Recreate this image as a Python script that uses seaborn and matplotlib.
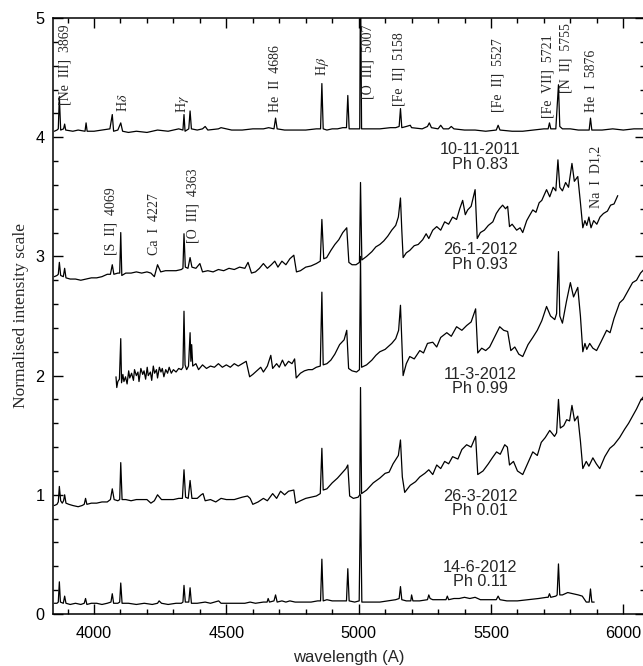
import matplotlib
matplotlib.use("Agg")
import matplotlib.pyplot as plt
import seaborn as sns
import pandas as pd
from matplotlib.ticker import MultipleLocator

# ---------------- data (wavelength [A], normalised flux) ----------------
spec_1011_2011 = [
    (3850, 4.05), (3860, 4.06), (3865, 4.07), (3869, 4.34), (3874, 4.06), (3885, 4.07), (3889, 4.11),
    (3893, 4.06), (3920, 4.05), (3940, 4.06), (3966, 4.05), (3970, 4.12), (3974, 4.05), (4000, 4.05),
    (4030, 4.06), (4060, 4.07), (4069, 4.19), (4074, 4.05), (4090, 4.06), (4101, 4.12), (4108, 4.05),
    (4130, 4.04), (4160, 4.05), (4200, 4.04), (4240, 4.06), (4280, 4.05), (4300, 4.06), (4320, 4.07),
    (4336, 4.06), (4340, 4.19), (4344, 4.05), (4358, 4.07), (4363, 4.22), (4368, 4.07), (4390, 4.06),
    (4410, 4.07), (4420, 4.09), (4430, 4.06), (4470, 4.07), (4480, 4.08), (4520, 4.06), (4560, 4.06),
    (4600, 4.07), (4640, 4.07), (4660, 4.08), (4680, 4.07), (4686, 4.16), (4692, 4.07), (4720, 4.06),
    (4760, 4.06), (4800, 4.06), (4840, 4.07), (4856, 4.07), (4861, 4.45), (4866, 4.07), (4880, 4.06),
    (4900, 4.07), (4920, 4.07), (4940, 4.08), (4954, 4.08), (4959, 4.35), (4964, 4.07), (5000, 4.07),
    (5004, 4.07), (5007, 5.40), (5011, 4.07), (5040, 4.07), (5080, 4.07), (5120, 4.08), (5140, 4.08),
    (5153, 4.09), (5158, 4.24), (5163, 4.08), (5180, 4.09), (5195, 4.10), (5200, 4.08), (5240, 4.07),
    (5260, 4.09), (5267, 4.12), (5275, 4.08), (5300, 4.07), (5310, 4.10), (5320, 4.07), (5340, 4.07),
    (5350, 4.09), (5360, 4.07), (5400, 4.06), (5440, 4.06), (5480, 4.05), (5520, 4.06), (5527, 4.10),
    (5534, 4.06), (5580, 4.05), (5620, 4.05), (5660, 4.06), (5700, 4.07), (5716, 4.07), (5721, 4.12),
    (5726, 4.07), (5745, 4.07), (5755, 4.44), (5760, 4.09), (5770, 4.07), (5800, 4.07), (5830, 4.06),
    (5860, 4.06), (5871, 4.06), (5876, 4.16), (5881, 4.06), (5920, 4.06), (5960, 4.07), (6000, 4.06),
    (6040, 4.07), (6082, 4.07),
]

spec_261_2012 = [
    (3850, 2.83), (3860, 2.84), (3865, 2.85), (3869, 2.95), (3874, 2.84), (3884, 2.83), (3889, 2.90),
    (3894, 2.82), (3910, 2.81), (3930, 2.81), (3950, 2.80), (3970, 2.81), (3990, 2.82), (4010, 2.82),
    (4030, 2.83), (4050, 2.85), (4062, 2.85), (4069, 2.93), (4075, 2.85), (4090, 2.86), (4097, 2.86),
    (4101, 3.20), (4105, 2.84), (4120, 2.86), (4140, 2.86), (4160, 2.87), (4180, 2.86), (4200, 2.87),
    (4215, 2.86), (4228, 2.83), (4240, 2.93), (4252, 2.87), (4270, 2.88), (4290, 2.88), (4310, 2.88),
    (4330, 2.89), (4336, 2.90), (4340, 3.19), (4345, 2.91), (4355, 2.90), (4363, 2.99), (4370, 2.91),
    (4385, 2.90), (4400, 2.94), (4410, 2.87), (4430, 2.88), (4450, 2.87), (4470, 2.89), (4490, 2.88),
    (4510, 2.90), (4530, 2.89), (4550, 2.91), (4570, 2.90), (4582, 2.95), (4595, 2.86), (4610, 2.87),
    (4625, 2.90), (4640, 2.94), (4655, 2.90), (4670, 2.93), (4683, 2.96), (4695, 2.91), (4710, 2.96),
    (4725, 2.93), (4740, 2.98), (4755, 3.01), (4765, 2.87), (4780, 2.88), (4800, 2.91), (4820, 2.92),
    (4840, 2.94), (4855, 2.96), (4861, 3.31), (4868, 2.98), (4879, 2.99), (4895, 3.05), (4910, 3.10),
    (4925, 3.14), (4940, 3.20), (4955, 3.24), (4963, 2.95), (4975, 2.93), (4990, 2.93), (5003, 2.95),
    (5007, 3.62), (5012, 2.97), (5030, 3.00), (5050, 3.04), (5065, 3.08), (5080, 3.10), (5095, 3.13),
    (5110, 3.17), (5125, 3.22), (5140, 3.26), (5150, 3.33), (5158, 3.49), (5163, 3.22), (5168, 2.99),
    (5180, 3.03), (5193, 3.05), (5210, 3.09), (5225, 3.10), (5242, 3.14), (5255, 3.19), (5265, 3.15),
    (5280, 3.22), (5295, 3.25), (5310, 3.22), (5325, 3.29), (5340, 3.27), (5355, 3.33), (5370, 3.31),
    (5382, 3.40), (5393, 3.47), (5403, 3.35), (5412, 3.39), (5425, 3.42), (5440, 3.56), (5448, 3.15),
    (5460, 3.20), (5475, 3.22), (5490, 3.26), (5507, 3.29), (5520, 3.36), (5532, 3.40), (5544, 3.43),
    (5555, 3.40), (5563, 3.42), (5570, 3.25), (5580, 3.27), (5590, 3.24), (5597, 3.22), (5610, 3.24),
    (5620, 3.20), (5635, 3.30), (5645, 3.34), (5658, 3.39), (5670, 3.37), (5682, 3.45), (5692, 3.47),
    (5702, 3.52), (5710, 3.56), (5722, 3.50), (5735, 3.58), (5745, 3.55), (5753, 3.81), (5760, 3.58),
    (5770, 3.55), (5782, 3.62), (5793, 3.58), (5806, 3.78), (5815, 3.63), (5828, 3.67), (5838, 3.45),
    (5847, 3.24), (5855, 3.30), (5862, 3.26), (5870, 3.33), (5878, 3.24), (5888, 3.30), (5900, 3.27),
    (5912, 3.33), (5925, 3.36), (5940, 3.38), (5952, 3.43), (5965, 3.44), (5979, 3.51),
]

spec_113_2012 = [
    (4083, 1.99), (4086, 1.90), (4090, 1.95), (4096, 1.97), (4101, 2.31), (4104, 1.94), (4109, 2.01),
    (4113, 1.95), (4119, 1.99), (4125, 1.93), (4131, 2.04), (4135, 1.98), (4142, 2.02), (4149, 1.96),
    (4153, 2.05), (4160, 2.00), (4166, 2.03), (4170, 1.95), (4177, 2.06), (4184, 2.01), (4189, 2.04),
    (4195, 1.97), (4201, 2.07), (4205, 2.00), (4213, 2.03), (4218, 1.96), (4224, 2.08), (4229, 2.02),
    (4236, 2.05), (4240, 1.98), (4247, 2.07), (4253, 2.03), (4258, 2.06), (4264, 1.99), (4271, 2.05),
    (4278, 2.02), (4284, 2.07), (4292, 2.02), (4300, 2.05), (4310, 2.03), (4320, 2.06), (4330, 2.05),
    (4336, 2.07), (4340, 2.54), (4344, 2.09), (4350, 2.05), (4357, 2.08), (4363, 2.36), (4366, 2.12),
    (4369, 2.26), (4373, 2.08), (4385, 2.10), (4395, 2.05), (4410, 2.09), (4425, 2.06), (4440, 2.08),
    (4455, 2.07), (4470, 2.10), (4485, 2.07), (4500, 2.09), (4515, 2.07), (4530, 2.10), (4545, 2.08),
    (4560, 2.10), (4575, 2.12), (4588, 1.99), (4600, 2.01), (4615, 2.04), (4630, 2.07), (4640, 2.03),
    (4655, 2.08), (4668, 2.17), (4675, 2.06), (4690, 2.10), (4700, 2.07), (4712, 2.13), (4722, 2.08),
    (4735, 2.12), (4748, 2.10), (4758, 2.14), (4764, 1.98), (4780, 2.02), (4795, 2.04), (4810, 2.05),
    (4825, 2.05), (4840, 2.07), (4855, 2.08), (4861, 2.70), (4866, 2.09), (4880, 2.10), (4895, 2.13),
    (4910, 2.18), (4928, 2.26), (4945, 2.30), (4955, 2.38), (4962, 2.06), (4975, 2.04), (4992, 2.03),
    (5003, 2.05), (5007, 3.00), (5011, 2.07), (5030, 2.09), (5050, 2.13), (5065, 2.17), (5080, 2.20),
    (5100, 2.22), (5125, 2.27), (5140, 2.31), (5151, 2.38), (5158, 2.59), (5163, 2.30), (5168, 2.00),
    (5180, 2.10), (5193, 2.16), (5210, 2.14), (5231, 2.21), (5245, 2.19), (5260, 2.27), (5280, 2.28),
    (5295, 2.24), (5310, 2.32), (5333, 2.36), (5350, 2.33), (5370, 2.41), (5390, 2.38), (5408, 2.42),
    (5425, 2.45), (5442, 2.56), (5450, 2.19), (5465, 2.23), (5480, 2.21), (5495, 2.24), (5515, 2.33),
    (5533, 2.41), (5548, 2.38), (5563, 2.37), (5575, 2.21), (5590, 2.24), (5605, 2.18), (5620, 2.16),
    (5640, 2.26), (5658, 2.32), (5675, 2.38), (5692, 2.46), (5710, 2.58), (5725, 2.50), (5741, 2.47),
    (5748, 2.52), (5755, 3.04), (5760, 2.50), (5770, 2.44), (5785, 2.62), (5800, 2.78), (5812, 2.66),
    (5820, 2.70), (5828, 2.74), (5838, 2.50), (5847, 2.20), (5855, 2.27), (5862, 2.22), (5873, 2.27),
    (5885, 2.23), (5899, 2.21), (5915, 2.28), (5937, 2.38), (5950, 2.36), (5965, 2.48), (5986, 2.61),
    (6000, 2.64), (6015, 2.70), (6035, 2.78), (6050, 2.80), (6065, 2.86), (6082, 2.90),
]

spec_263_2012 = [
    (3850, 0.91), (3860, 0.92), (3865, 0.94), (3869, 1.07), (3874, 0.95), (3880, 0.93), (3885, 0.95),
    (3889, 1.00), (3894, 0.93), (3905, 0.92), (3920, 0.91), (3940, 0.90), (3955, 0.91), (3963, 0.92),
    (3968, 0.97), (3973, 0.92), (3990, 0.93), (4010, 0.93), (4030, 0.94), (4050, 0.94), (4062, 0.96),
    (4069, 1.05), (4076, 0.96), (4090, 0.95), (4097, 0.96), (4101, 1.27), (4106, 0.96), (4120, 0.96),
    (4140, 0.95), (4160, 0.96), (4180, 0.96), (4200, 0.96), (4215, 0.93), (4228, 0.95), (4240, 1.00),
    (4255, 0.96), (4280, 0.96), (4300, 0.96), (4320, 0.97), (4334, 0.97), (4340, 1.21), (4346, 0.98),
    (4356, 0.97), (4363, 1.12), (4370, 0.97), (4390, 0.97), (4405, 1.00), (4412, 1.01), (4420, 0.95),
    (4440, 0.96), (4460, 0.94), (4480, 0.97), (4500, 0.96), (4530, 0.96), (4560, 0.98), (4580, 0.99),
    (4590, 0.97), (4600, 0.92), (4620, 0.94), (4640, 0.97), (4655, 0.95), (4675, 1.01), (4690, 0.97),
    (4705, 1.03), (4720, 1.00), (4735, 1.03), (4755, 1.04), (4762, 0.93), (4780, 0.95), (4800, 0.97),
    (4820, 0.98), (4840, 0.99), (4855, 1.01), (4861, 1.39), (4866, 1.04), (4880, 1.05), (4900, 1.10),
    (4920, 1.14), (4940, 1.19), (4952, 1.22), (4959, 1.25), (4966, 0.99), (4980, 0.97), (4998, 0.98),
    (5004, 1.00), (5007, 1.90), (5011, 1.01), (5030, 1.04), (5055, 1.10), (5080, 1.14), (5100, 1.18),
    (5115, 1.19), (5130, 1.26), (5150, 1.33), (5158, 1.46), (5165, 1.15), (5174, 1.02), (5195, 1.08),
    (5215, 1.11), (5231, 1.15), (5250, 1.18), (5265, 1.21), (5280, 1.17), (5295, 1.25), (5310, 1.22),
    (5325, 1.28), (5340, 1.26), (5355, 1.32), (5375, 1.30), (5390, 1.38), (5408, 1.42), (5425, 1.40),
    (5442, 1.49), (5450, 1.17), (5470, 1.20), (5490, 1.26), (5505, 1.31), (5521, 1.36), (5535, 1.34),
    (5552, 1.42), (5562, 1.40), (5570, 1.25), (5585, 1.28), (5600, 1.20), (5620, 1.17), (5640, 1.27),
    (5658, 1.36), (5675, 1.33), (5690, 1.44), (5705, 1.48), (5722, 1.54), (5740, 1.49), (5748, 1.52),
    (5755, 1.80), (5762, 1.56), (5775, 1.58), (5786, 1.63), (5797, 1.62), (5806, 1.75), (5816, 1.62),
    (5828, 1.66), (5838, 1.45), (5847, 1.22), (5860, 1.28), (5870, 1.24), (5885, 1.31), (5898, 1.26),
    (5911, 1.22), (5930, 1.32), (5949, 1.39), (5965, 1.42), (5986, 1.48), (6005, 1.55), (6020, 1.60),
    (6035, 1.66), (6050, 1.72), (6065, 1.79), (6082, 1.84),
]

spec_146_2012 = [
    (3850, 0.09), (3860, 0.09), (3865, 0.10), (3869, 0.27), (3873, 0.10), (3884, 0.09), (3889, 0.15),
    (3894, 0.09), (3910, 0.08), (3930, 0.09), (3950, 0.08), (3963, 0.09), (3968, 0.13), (3973, 0.08),
    (3990, 0.09), (4010, 0.09), (4030, 0.08), (4050, 0.09), (4064, 0.10), (4069, 0.17), (4074, 0.09),
    (4090, 0.09), (4097, 0.10), (4101, 0.26), (4106, 0.09), (4130, 0.09), (4160, 0.08), (4190, 0.09),
    (4220, 0.08), (4240, 0.09), (4246, 0.11), (4255, 0.09), (4280, 0.08), (4310, 0.09), (4330, 0.09),
    (4336, 0.10), (4340, 0.24), (4345, 0.10), (4358, 0.10), (4363, 0.22), (4368, 0.09), (4390, 0.09),
    (4420, 0.10), (4440, 0.09), (4471, 0.11), (4480, 0.09), (4510, 0.09), (4540, 0.09), (4570, 0.09),
    (4590, 0.10), (4610, 0.09), (4640, 0.10), (4654, 0.10), (4658, 0.13), (4663, 0.10), (4680, 0.11),
    (4686, 0.16), (4692, 0.10), (4710, 0.11), (4725, 0.10), (4740, 0.11), (4760, 0.10), (4790, 0.10),
    (4820, 0.10), (4845, 0.11), (4856, 0.11), (4861, 0.46), (4866, 0.11), (4880, 0.12), (4900, 0.11),
    (4920, 0.11), (4940, 0.11), (4954, 0.11), (4959, 0.38), (4964, 0.11), (4985, 0.10), (5002, 0.11),
    (5007, 1.00), (5012, 0.10), (5040, 0.10), (5080, 0.10), (5110, 0.11), (5140, 0.12), (5153, 0.13),
    (5158, 0.23), (5163, 0.12), (5180, 0.11), (5197, 0.11), (5200, 0.16), (5205, 0.11), (5230, 0.11),
    (5260, 0.12), (5265, 0.16), (5270, 0.13), (5280, 0.12), (5300, 0.12), (5330, 0.12), (5335, 0.15),
    (5340, 0.12), (5360, 0.13), (5380, 0.13), (5400, 0.14), (5420, 0.13), (5440, 0.14), (5460, 0.12),
    (5490, 0.12), (5520, 0.12), (5527, 0.15), (5534, 0.12), (5560, 0.11), (5600, 0.11), (5640, 0.12),
    (5680, 0.13), (5710, 0.14), (5716, 0.14), (5721, 0.17), (5726, 0.14), (5745, 0.15), (5750, 0.16),
    (5755, 0.42), (5760, 0.16), (5770, 0.16), (5790, 0.18), (5810, 0.17), (5830, 0.16), (5845, 0.15),
    (5860, 0.10), (5871, 0.10), (5876, 0.21), (5881, 0.10), (5890, 0.10),
]

spectra = {
    "10-11-2011": spec_1011_2011,
    "26-1-2012": spec_261_2012,
    "11-3-2012": spec_113_2012,
    "26-3-2012": spec_263_2012,
    "14-6-2012": spec_146_2012,
}

# epoch labels: (date, phase)
epoch_dates = ["10-11-2011", "26-1-2012", "11-3-2012", "26-3-2012", "14-6-2012"]
epoch_phases = ["Ph 0.83", "Ph 0.93", "Ph 0.99", "Ph 0.01", "Ph 0.11"]

# line identifications
line_ids = ["[Ne  III]  3869", r"H$\delta$", r"H$\gamma$", "He  II  4686", r"H$\beta$",
            "[O  III]  5007", "[Fe  II]  5158", "[Fe  II]  5527", "[Fe  VII]  5721",
            "[N  II]  5755", "He  I  5876", "[S  II]  4069", "Ca  I  4227",
            "[O  III]  4363", "Na  I  D1,2"]

# ---------------- layout ----------------
id_pos = [(3890, 4.27), (4110, 4.21), (4333, 4.20), (4684, 4.21), (4862, 4.51),
          (5035, 4.32), (5153, 4.26), (5527, 4.21), (5716, 4.16), (5784, 4.37),
          (5878, 4.21), (4064, 3.01), (4230, 3.01), (4374, 3.11), (5897, 3.41)]
block_y = [3.835, 2.995, 1.95, 0.925, 0.33]
label_x = 5459

sns.set_style("ticks")
plt.rcParams["font.family"] = ["Liberation Sans", "DejaVu Sans"]
plt.rcParams["mathtext.fontset"] = "stix"

rows = []
for name, pts in spectra.items():
    for w, f in pts:
        rows.append({"wavelength": w, "flux": f, "epoch": name})
df = pd.DataFrame(rows)

fig = plt.figure(figsize=(6.43, 6.66), dpi=100)
ax = fig.add_axes([53 / 643, 52 / 666, 592 / 643, 596 / 666])

sns.lineplot(data=df, x="wavelength", y="flux", units="epoch", estimator=None,
             color="black", linewidth=0.9, sort=False, ax=ax, legend=False)

ax.set_xlim(3845, 6082)
ax.set_ylim(0, 5)
ax.xaxis.set_major_locator(MultipleLocator(500))
ax.xaxis.set_minor_locator(MultipleLocator(100))
ax.yaxis.set_major_locator(MultipleLocator(1))
ax.yaxis.set_minor_locator(MultipleLocator(0.2))
ax.tick_params(which="both", direction="in", top=True, right=True, width=1.0,
               labelsize=11.7, colors="black")
ax.tick_params(which="major", length=7)
ax.tick_params(which="minor", length=3.5)
ax.tick_params(axis="x", pad=9)
ax.tick_params(axis="y", pad=6)
for s in ax.spines.values():
    s.set_linewidth(1.1)
    s.set_color("black")

ax.set_xlabel("wavelength (A)", fontsize=12, labelpad=6)
ax.set_ylabel("Normalised intensity scale", fontsize=12.5,
              family=["Liberation Serif", "DejaVu Serif"], labelpad=5)

for txt, (x, y) in zip(line_ids, id_pos):
    ax.text(x, y, txt, rotation=90, ha="center", va="bottom", fontsize=10,
            family=["Liberation Serif", "DejaVu Serif"], clip_on=False)

for d, p, yb in zip(epoch_dates, epoch_phases, block_y):
    ax.text(label_x, yb, d + "\n" + p, ha="center", va="center", fontsize=11.7,
            multialignment="center", linespacing=0.95)

fig.savefig("out.png", dpi=100)
